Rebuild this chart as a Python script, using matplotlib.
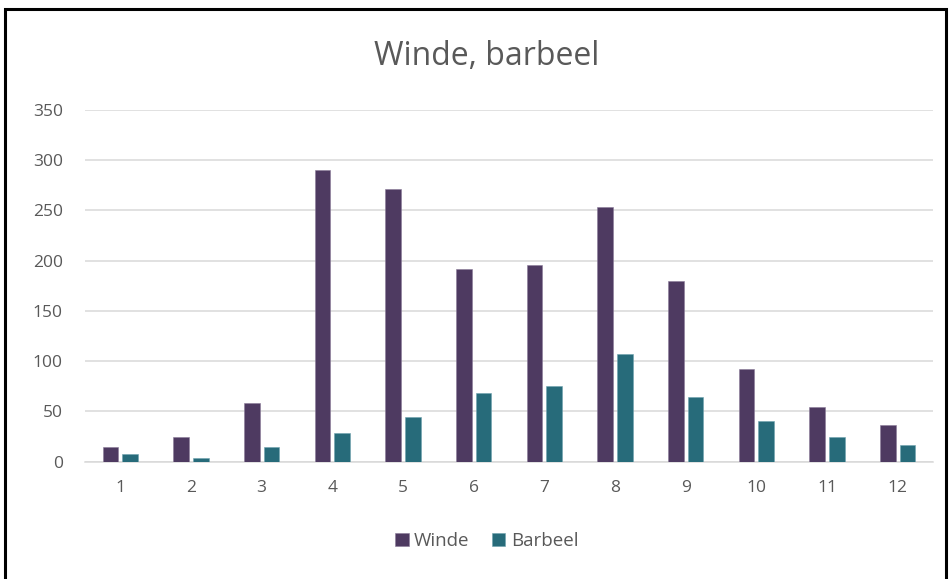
import matplotlib.pyplot as plt
import numpy as np
from matplotlib.patches import Rectangle

months = ["1", "2", "3", "4", "5", "6", "7", "8", "9", "10", "11", "12"]
winde = [14, 24, 58, 290, 271, 192, 196, 253, 180, 92, 54, 36]
barbeel = [7, 3, 14, 28, 44, 68, 75, 107, 64, 40, 24, 16]

colors = {"winde": "#4e3a61", "barbeel": "#276b7a"}
grey = "#595959"

plt.rcParams["font.family"] = ["Open Sans", "DejaVu Sans"]

fig = plt.figure(figsize=(9.51, 5.79), dpi=100)
ax = fig.add_axes([85 / 951, 1 - 461.5 / 579, 848 / 951, 351.5 / 579])

x = np.arange(len(months))
w = 0.22
gap = 0.057
ax.bar(x - (w + gap) / 2, winde, width=w, color=colors["winde"], label="Winde",
       edgecolor="#8a7a99", linewidth=0.4, zorder=3)
ax.bar(x + (w + gap) / 2, barbeel, width=w, color=colors["barbeel"], label="Barbeel",
       edgecolor="#6fa3ae", linewidth=0.4, zorder=3)

ax.set_xlim(-0.5, 11.5)
ax.set_ylim(0, 350)
ax.set_yticks(np.arange(0, 351, 50))
ax.set_xticks(x)
ax.set_xticklabels(months)
ax.yaxis.grid(True, color="#d9d9d9", linewidth=1.1)
ax.set_axisbelow(True)
for s in ["top", "right", "left"]:
    ax.spines[s].set_visible(False)
ax.spines["bottom"].set_color("#d9d9d9")
ax.spines["bottom"].set_linewidth(1.1)
ax.tick_params(length=0, colors=grey, labelsize=12.5)
ax.tick_params(axis="y", pad=16)
ax.tick_params(axis="x", pad=13)

fig.text(0.512, 1 - 65 / 579, "Winde, barbeel", ha="center", va="baseline",
         fontsize=23, color=grey)

fig.legend(loc="center", bbox_to_anchor=(0.512, 1 - 541 / 579), ncol=2, frameon=False,
           fontsize=13.5, handlelength=0.7, handleheight=0.7, handletextpad=0.3,
           columnspacing=1.2, labelcolor=grey)

# black frame round the chart
fig.patches.append(Rectangle((5 / 951, -0.05), 941 / 951, 1 - 9 / 579 + 0.05,
                             transform=fig.transFigure, fill=False,
                             edgecolor="black", linewidth=2.2))

plt.savefig("out.png", dpi=100)
